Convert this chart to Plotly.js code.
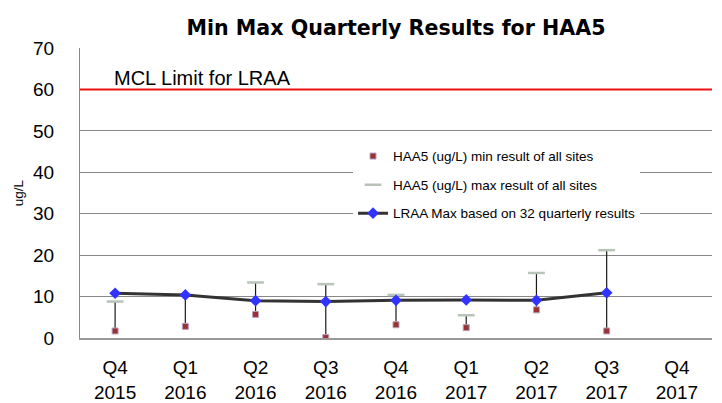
<!DOCTYPE html>
<html>
<head>
<meta charset="utf-8">
<script src="https://cdn.plot.ly/plotly-3.0.1.min.js"></script>
<style>html,body{margin:0;padding:0;background:#fff;}#chart{width:722px;height:403px;}</style>
</head>
<body>
<div id="chart"></div>
<script>
const categories = ["Q4<br>2015","Q1<br>2016","Q2<br>2016","Q3<br>2016","Q4<br>2016","Q1<br>2017","Q2<br>2017","Q3<br>2017","Q4<br>2017"];
const minValues  = [1.7, 2.8, 5.7, 0.1, 3.2, 2.5, 6.8, 1.7, null];
const maxValues  = [8.8, 10.4, 13.4, 13.0, 10.4, 5.5, 15.7, 21.2, null];
const lraaValues = [10.8, 10.4, 9.0, 8.8, 9.1, 9.2, 9.1, 10.9, null];
const mclLimit = 60;
const mclLabel = "MCL Limit for LRAA";

const font = "Liberation Sans, Arial, sans-serif";
const spans = maxValues.map((v, i) => (v === null || minValues[i] === null) ? null : v - minValues[i]);

const traces = [
  {
    x: categories, y: minValues, type: "scatter", mode: "markers",
    name: "HAA5 (ug/L) min result of all sites", legendgroup: "a",
    marker: {symbol: "square", size: 6, color: "#993333", line: {color: "#b8a0c0", width: 1}},
    error_y: {type: "data", symmetric: false, array: spans, arrayminus: minValues.map(v => v === null ? null : 0), color: "#1a1a1a", thickness: 1.2, width: 0}
  },
  {
    x: categories, y: maxValues, type: "scatter", mode: "markers",
    name: "HAA5 (ug/L) max result of all sites", legendgroup: "b",
    marker: {symbol: "line-ew-open", size: 12, color: "#b8c4b8", line: {color: "#b8c4b8", width: 2.5}}
  },
  {
    x: categories, y: lraaValues, type: "scatter", mode: "lines+markers",
    name: "LRAA Max based on 32 quarterly results", legendgroup: "c",
    line: {color: "#333333", width: 3},
    marker: {symbol: "diamond", size: 9, color: "#3333ff"}
  }
];

const layout = {
  width: 722, height: 403,
  margin: {l: 80, r: 10, t: 48, b: 65},
  paper_bgcolor: "#fff", plot_bgcolor: "#fff",
  font: {family: font, color: "#000"},
  title: {text: "<b>Min Max Quarterly Results for HAA5</b>", font: {size: 20.6, family: "DejaVu Sans, sans-serif"}, x: 0.5, xref: "paper", y: 0.93, yref: "container", yanchor: "middle"},
  showlegend: true,
  legend: {x: 0.432, y: 0.68, xanchor: "left", yanchor: "top", bgcolor: "#fff", font: {size: 13.5, family: font}, tracegroupgap: 8, itemwidth: 30},
  xaxis: {
    type: "category", categoryarray: categories, categoryorder: "array",
    range: [-0.5, 8.5], showgrid: false, showline: true, linecolor: "#999", linewidth: 1.5,
    ticks: "", tickfont: {size: 19, family: font}, zeroline: false, ticklabelstandoff: 12
  },
  yaxis: {
    range: [0, 70], dtick: 10, showgrid: true, gridcolor: "#888", gridwidth: 1,
    showline: true, linecolor: "#888", linewidth: 1, zeroline: false,
    ticks: "", tickfont: {size: 19, family: font}, ticklabelstandoff: 21,
    title: {text: "ug/L", font: {size: 13.5, family: font}, standoff: 6}
  },
  shapes: [
    {type: "line", xref: "paper", x0: 0, x1: 1, yref: "y", y0: mclLimit, y1: mclLimit, line: {color: "#ee1111", width: 2}}
  ],
  annotations: [
    {text: mclLabel, xref: "paper", x: 0.05, yref: "y", y: mclLimit, xanchor: "left", yanchor: "bottom", showarrow: false, font: {size: 20, family: font}, yshift: -2}
  ]
};

Plotly.newPlot("chart", traces, layout, {displayModeBar: false, staticPlot: true});
</script>
</body>
</html>
